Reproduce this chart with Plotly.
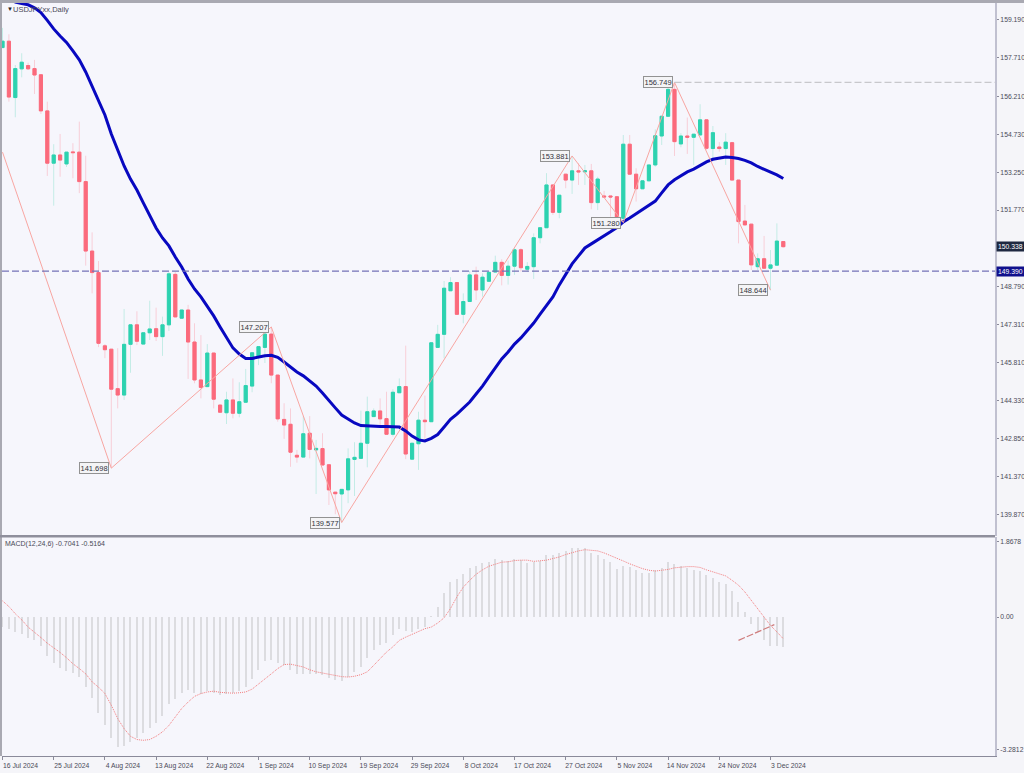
import plotly.graph_objects as go
from plotly.subplots import make_subplots

open_prices = [
    158.11, 158.36, 156.16, 157.28, 157.41, 157.29, 157.05, 155.64, 153.60, 153.92,
    153.57, 154.04, 154.03, 152.88, 150.17, 149.33, 146.47, 146.34, 144.80, 144.55,
    146.53, 147.29, 146.54, 146.98, 147.14, 146.83, 147.29, 149.26, 147.55, 147.87,
    146.62, 145.14, 144.88, 146.19, 144.16, 143.86, 144.36, 143.84, 144.27, 144.90,
    146.02, 146.41, 146.93, 145.33, 143.60, 143.41, 142.20, 142.13, 143.06, 142.41,
    142.46, 141.83, 140.76, 140.69, 140.85, 142.04, 142.08, 142.67, 143.71, 143.93,
    143.63, 143.02, 144.64, 144.88, 142.05, 142.65, 143.57, 143.51, 146.41, 146.92,
    148.62, 148.94, 147.70, 148.20, 149.24, 148.65, 148.99, 149.35, 149.73, 149.22,
    149.58, 150.22, 149.46, 149.56, 150.69, 151.08, 152.75, 151.68, 153.17, 152.94,
    153.30, 153.26, 153.30, 152.06, 152.32, 152.32, 152.29, 151.45, 154.34, 153.17,
    152.60, 152.91, 153.53, 154.66, 155.43, 156.48, 154.35, 154.66, 154.61, 154.70,
    155.29, 154.17, 154.23, 154.17, 154.40, 152.94, 151.34, 151.22, 149.56, 149.87,
    149.50, 149.62, 150.54,
]
close_prices = [
    158.36, 156.18, 157.29, 157.54, 157.28, 157.04, 155.64, 153.60, 153.92, 153.72,
    154.03, 154.01, 152.88, 150.17, 149.33, 146.57, 146.32, 144.78, 144.55, 146.53,
    147.29, 146.65, 146.98, 147.13, 146.83, 147.29, 149.28, 147.60, 147.87, 146.62,
    145.14, 144.85, 146.19, 144.39, 143.88, 144.36, 143.84, 144.29, 144.92, 146.20,
    146.44, 146.93, 145.33, 143.62, 143.38, 142.32, 142.13, 143.04, 142.43, 142.47,
    141.82, 140.85, 140.70, 140.87, 142.06, 142.12, 142.67, 143.90, 143.93, 143.62,
    143.02, 144.66, 144.88, 142.25, 142.67, 143.57, 143.51, 146.59, 146.92, 148.72,
    148.94, 147.70, 148.20, 149.24, 148.65, 149.15, 149.34, 149.73, 149.22, 149.58,
    150.22, 149.52, 149.57, 150.69, 151.08, 152.75, 151.68, 152.35, 152.94, 153.30,
    153.26, 153.30, 152.06, 152.98, 152.28, 152.28, 151.45, 154.34, 153.17, 152.60,
    152.91, 153.53, 154.67, 155.43, 156.48, 154.44, 154.66, 154.61, 154.73, 155.29,
    154.18, 154.79, 154.17, 154.42, 152.94, 151.32, 151.19, 149.63, 149.87, 149.50,
    149.63, 150.56, 150.34,
]
high_prices = [
    158.88, 158.63, 157.43, 157.89, 157.52, 157.63, 157.05, 156.00, 154.34, 154.74,
    154.03, 154.38, 155.22, 153.89, 150.90, 149.78, 146.54, 146.35, 146.38, 147.91,
    147.29, 147.82, 147.01, 148.23, 147.96, 147.61, 149.35, 149.35, 147.87, 148.07,
    147.35, 146.89, 146.54, 146.19, 144.16, 144.68, 145.20, 145.05, 145.57, 146.23,
    146.44, 147.09, 147.21, 145.33, 144.23, 144.03, 142.41, 143.73, 143.73, 142.80,
    143.06, 141.83, 140.77, 140.88, 142.47, 142.71, 143.94, 144.49, 144.03, 144.42,
    144.68, 144.78, 145.20, 146.48, 142.67, 143.90, 144.53, 146.59, 147.29, 149.00,
    149.15, 148.94, 148.52, 149.39, 149.56, 149.30, 149.34, 149.99, 149.85, 149.80,
    150.28, 150.28, 149.74, 150.86, 151.08, 153.21, 152.75, 152.35, 153.18, 153.88,
    153.60, 153.53, 153.57, 153.07, 152.52, 152.32, 152.29, 154.70, 154.70, 153.40,
    152.91, 153.53, 154.92, 155.44, 156.74, 156.75, 154.77, 155.38, 154.74, 155.90,
    155.29, 155.05, 154.42, 154.77, 154.43, 152.94, 151.97, 151.22, 150.08, 150.76,
    150.21, 151.25, 150.54,
]
low_prices = [
    158.11, 156.00, 155.39, 156.95, 157.24, 156.30, 155.52, 153.10, 151.94, 153.07,
    153.45, 153.01, 152.43, 149.60, 148.52, 146.42, 145.99, 141.70, 144.03, 144.36,
    145.42, 146.50, 146.54, 146.70, 146.66, 146.08, 147.05, 147.60, 147.55, 145.18,
    145.01, 144.42, 144.86, 144.03, 143.88, 143.42, 143.64, 143.68, 144.27, 144.66,
    145.72, 145.80, 145.01, 143.51, 142.84, 141.75, 141.91, 142.13, 142.08, 140.69,
    141.82, 140.26, 139.90, 139.58, 140.33, 140.61, 142.08, 141.73, 143.71, 143.32,
    143.02, 142.93, 144.64, 142.05, 142.05, 141.63, 142.80, 143.51, 146.41, 145.99,
    148.62, 147.68, 147.35, 148.20, 148.26, 148.39, 148.99, 149.35, 148.83, 148.86,
    149.24, 149.37, 149.35, 149.08, 150.47, 151.08, 151.58, 151.45, 152.62, 152.40,
    152.75, 152.75, 151.80, 151.77, 152.28, 151.51, 151.38, 151.28, 153.17, 152.10,
    152.60, 152.91, 153.46, 154.31, 155.43, 153.88, 154.22, 153.96, 153.53, 154.70,
    154.12, 153.80, 154.05, 153.53, 152.94, 150.47, 151.19, 149.43, 149.43, 149.50,
    148.64, 149.62, 150.30,
]
ma_values = [
    160.20, 160.05, 159.89, 159.83, 159.78, 159.66, 159.48, 159.17, 158.84, 158.56,
    158.31, 157.98, 157.63, 157.16, 156.61, 156.07, 155.48, 154.74, 154.08, 153.49,
    152.98, 152.55, 152.05, 151.54, 151.07, 150.68, 150.37, 149.94, 149.55, 149.08,
    148.69, 148.38, 148.03, 147.64, 147.21, 146.78, 146.39, 146.15, 145.98, 145.98,
    146.04, 146.08, 146.10, 146.02, 145.84, 145.65, 145.45, 145.30, 145.10, 144.90,
    144.63, 144.32, 144.05, 143.77, 143.62, 143.46, 143.36, 143.34, 143.34, 143.32,
    143.32, 143.32, 143.30, 143.15, 142.95, 142.80, 142.76, 142.86, 143.01, 143.30,
    143.60, 143.81, 144.05, 144.28, 144.59, 144.90, 145.26, 145.61, 145.96, 146.23,
    146.54, 146.78, 147.05, 147.36, 147.71, 148.07, 148.38, 148.85, 149.28, 149.67,
    149.98, 150.29, 150.45, 150.60, 150.76, 150.92, 151.09, 151.31, 151.46, 151.62,
    151.77, 151.93, 152.12, 152.44, 152.75, 152.95, 153.10, 153.26, 153.37, 153.51,
    153.65, 153.75, 153.80, 153.84, 153.82, 153.78, 153.71, 153.61, 153.47, 153.37,
    153.26, 153.14, 153.00,
]
macd_hist = [
    -0.25, -0.29, -0.37, -0.43, -0.51, -0.56, -0.72, -0.98, -1.14, -1.27,
    -1.35, -1.39, -1.49, -1.74, -2.00, -2.38, -2.67, -2.99, -3.23, -3.19,
    -3.10, -3.00, -2.89, -2.75, -2.63, -2.46, -2.17, -2.03, -1.88, -1.82,
    -1.88, -1.90, -1.84, -1.88, -1.93, -1.90, -1.89, -1.84, -1.74, -1.53,
    -1.32, -1.10, -1.06, -1.14, -1.20, -1.32, -1.41, -1.41, -1.42, -1.41,
    -1.45, -1.51, -1.57, -1.59, -1.49, -1.36, -1.24, -1.02, -0.83, -0.70,
    -0.65, -0.45, -0.29, -0.35, -0.38, -0.31, -0.26, 0.02, 0.26, 0.60,
    0.87, 0.95, 1.06, 1.22, 1.26, 1.34, 1.36, 1.43, 1.41, 1.38,
    1.43, 1.41, 1.34, 1.36, 1.39, 1.55, 1.55, 1.60, 1.65, 1.70,
    1.72, 1.72, 1.60, 1.55, 1.45, 1.36, 1.20, 1.27, 1.24, 1.16,
    1.08, 1.08, 1.16, 1.22, 1.36, 1.31, 1.26, 1.22, 1.16, 1.14,
    1.03, 0.98, 0.88, 0.81, 0.64, 0.36, 0.13, -0.18, -0.37, -0.58,
    -0.71, -0.73, -0.75,
]
macd_signal = [
    0.40, 0.26, 0.08, -0.07, -0.25, -0.37, -0.51, -0.65, -0.76, -0.88,
    -1.01, -1.16, -1.28, -1.41, -1.61, -1.74, -1.90, -2.19, -2.52, -2.77,
    -2.96, -3.04, -3.06, -3.04, -2.96, -2.85, -2.69, -2.48, -2.27, -2.11,
    -1.97, -1.90, -1.86, -1.84, -1.87, -1.88, -1.89, -1.88, -1.86, -1.79,
    -1.67, -1.53, -1.41, -1.28, -1.18, -1.17, -1.20, -1.24, -1.31, -1.36,
    -1.39, -1.42, -1.46, -1.48, -1.49, -1.47, -1.43, -1.36, -1.20, -1.03,
    -0.87, -0.74, -0.58, -0.50, -0.43, -0.36, -0.29, -0.25, -0.15, -0.02,
    0.21, 0.50, 0.74, 0.91, 1.06, 1.17, 1.26, 1.31, 1.36, 1.37,
    1.40, 1.41, 1.41, 1.38, 1.39, 1.41, 1.45, 1.49, 1.55, 1.60,
    1.64, 1.67, 1.65, 1.64, 1.59, 1.53, 1.45, 1.39, 1.32, 1.26,
    1.20, 1.16, 1.14, 1.16, 1.18, 1.22, 1.24, 1.25, 1.25, 1.23,
    1.17, 1.12, 1.08, 1.02, 0.91, 0.79, 0.62, 0.41, 0.21, -0.02,
    -0.21, -0.37, -0.54,
]

zigzag_bars = [0, 17, 42, 53, 89, 97, 105, 120]
zigzag_prices = [154.03, 141.698, 147.207, 139.577, 153.881, 151.280, 156.749, 148.644]
zigzag_labels = [None, "141.698", "147.207", "139.577", "153.881", "151.280", "156.749", "148.644"]

trend_bars = [115, 120.6]
trend_values = [-0.58, -0.19]

date_bars = [0, 8, 16, 24, 32, 40, 48, 56, 64, 72, 80, 88, 96, 104, 112, 120]
date_labels = [
    "16 Jul 2024", "25 Jul 2024", "4 Aug 2024", "13 Aug 2024", "22 Aug 2024", "1 Sep 2024",
    "10 Sep 2024", "19 Sep 2024", "29 Sep 2024", "8 Oct 2024", "17 Oct 2024", "27 Oct 2024",
    "5 Nov 2024", "14 Nov 2024", "24 Nov 2024", "3 Dec 2024",
]
price_ticks = [159.19, 157.71, 156.21, 154.73, 153.25, 151.77, 148.79, 147.31, 145.81, 144.33, 142.85, 141.37, 139.87]
macd_ticks = [1.8678, 0, -3.2812]
macd_tick_labels = ["1.8678", "0.00", "-3.2812"]

last_price = 150.338
level_price = 149.390
high_level = 156.749

FONT = "Liberation Sans"
TEXT_COLOR = "#4a4a58"
UP = "#2dd2b0"
DOWN = "#fb6a7c"
UP_WICK = "#c4ece6"
DOWN_WICK = "#f8cfd8"

W, H = 1024, 773


def main():
    bars = list(range(len(open_prices)))
    body_high = [max(o, c) for o, c in zip(open_prices, close_prices)]
    body_low = [min(o, c) for o, c in zip(open_prices, close_prices)]

    fig = make_subplots(rows=2, cols=1, shared_xaxes=True)

    # pale wicks first, then solid bodies on top of them
    fig.add_trace(go.Candlestick(
        x=bars, open=open_prices, high=high_prices, low=low_prices, close=close_prices,
        increasing=dict(line=dict(color=UP_WICK, width=1), fillcolor=UP),
        decreasing=dict(line=dict(color=DOWN_WICK, width=1), fillcolor=DOWN),
        whiskerwidth=0, hoverinfo="skip"), row=1, col=1)
    fig.add_trace(go.Candlestick(
        x=bars, open=open_prices, high=body_high, low=body_low, close=close_prices,
        increasing=dict(line=dict(color=UP, width=1), fillcolor=UP),
        decreasing=dict(line=dict(color=DOWN, width=1), fillcolor=DOWN),
        whiskerwidth=0, hoverinfo="skip"), row=1, col=1)

    fig.add_trace(go.Scatter(x=bars, y=ma_values, mode="lines",
                             line=dict(color="#0808c0", width=3)), row=1, col=1)
    fig.add_trace(go.Scatter(x=zigzag_bars, y=zigzag_prices, mode="lines",
                             line=dict(color="#f8a6a2", width=1)), row=1, col=1)

    fig.add_trace(go.Bar(x=bars, y=macd_hist, width=0.18,
                         marker=dict(color="#dcdce0", line_width=0)), row=2, col=1)
    fig.add_trace(go.Scatter(x=bars, y=macd_signal, mode="lines",
                             line=dict(color="#f47c7c", width=1, dash="1px,1px")), row=2, col=1)
    fig.add_trace(go.Scatter(x=trend_bars, y=trend_values, mode="lines",
                             line=dict(color="#cf7c7c", width=1.2, dash="7px,2px")), row=2, col=1)

    fig.add_shape(type="line", xref="x domain", yref="y", x0=0, x1=1, y0=level_price, y1=level_price,
                  line=dict(color="#7472b6", width=1.3, dash="7px,3px"))
    fig.add_shape(type="line", xref="x", yref="y", x0=105, x1=155.08, y0=high_level, y1=high_level,
                  line=dict(color="#c8c8cc", width=1.2, dash="7px,3px"))

    # window frame: top edge, left edge, band between the two panes
    frame = dict(type="rect", xref="paper", yref="paper", line_width=0, fillcolor="#a9a9b2", layer="above")
    fig.add_shape(x0=0, x1=1, y0=1 - 3 / H, y1=1, **frame)
    fig.add_shape(x0=0, x1=2 / W, y0=17 / H, y1=1, **frame)
    fig.add_shape(x0=0, x1=995 / W, y0=1 - 537.5 / H, y1=1 - 535 / H, **dict(frame, fillcolor="#8f8f9c"))

    for bar, price, label in zip(zigzag_bars, zigzag_prices, zigzag_labels):
        if label is None:
            continue
        fig.add_annotation(x=bar, y=price, xref="x", yref="y", text=label, showarrow=False,
                           xanchor="right", xshift=-2, font=dict(family=FONT, size=7.5, color="#333340"),
                           bgcolor="#f4f4f6", bordercolor="#929292", borderwidth=1, borderpad=0.5)

    for price, color in [(last_price, "#1e2840"), (level_price, "#10108c")]:
        fig.add_annotation(x=996 / W, y=price, xref="paper", yref="y", text=f"{price:.3f}", showarrow=False,
                           xanchor="left", font=dict(family=FONT, size=6.8, color="white"),
                           bgcolor=color, borderpad=1)

    fig.add_annotation(x=5 / W, y=1 - 9 / H, xref="paper", yref="paper", text="▼", showarrow=False,
                       xanchor="left", yanchor="middle", font=dict(family=FONT, size=6, color="#222222"))
    fig.add_annotation(x=11 / W, y=1 - 9 / H, xref="paper", yref="paper", text="USDJPYxx,Daily", showarrow=False,
                       xanchor="left", yanchor="middle", font=dict(family=FONT, size=7.5, color=TEXT_COLOR))
    fig.add_annotation(x=3 / W, y=1 - 544 / H, xref="paper", yref="paper", text="MACD(12,24,6) -0.7041 -0.5164",
                       showarrow=False, xanchor="left", yanchor="middle",
                       font=dict(family=FONT, size=7, color=TEXT_COLOR))

    fig.update_xaxes(range=[-0.08, 155.08], domain=[2 / W, 995 / W], showgrid=False, zeroline=False,
                     rangeslider_visible=False)
    fig.update_xaxes(showticklabels=False, ticks="", row=1, col=1)
    fig.update_xaxes(tickmode="array", tickvals=date_bars, ticktext=date_labels, ticks="outside", ticklen=3,
                     tickcolor="#8a8a9a", ticklabelshift=18, ticklabeloverflow="allow",
                     tickfont=dict(family=FONT, size=6.8, color=TEXT_COLOR),
                     showline=True, linecolor="#8a8a9a", linewidth=1, row=2, col=1)

    y_style = dict(side="right", showgrid=False, zeroline=False, showline=True, linecolor="#c0c0d0", linewidth=2,
                   ticks="outside", ticklen=2, tickcolor="#8a8a9a", tickmode="array",
                   tickfont=dict(family=FONT, size=6.8, color=TEXT_COLOR))
    fig.update_yaxes(range=[139.05, 159.85], domain=[1 - 536 / H, 1 - 3 / H], tickvals=price_ticks,
                     ticktext=[f"{p:.3f}" for p in price_ticks], row=1, col=1, **y_style)
    fig.update_yaxes(range=[-3.449, 1.985], domain=[1 - 756 / H, 1 - 537 / H], tickvals=macd_ticks,
                     ticktext=macd_tick_labels, row=2, col=1, **y_style)

    fig.update_layout(width=W, height=H, autosize=False,
                      margin=dict(l=0, r=0, t=0, b=0, autoexpand=False), showlegend=False,
                      paper_bgcolor="#f5f5f9", plot_bgcolor="#f6f6fc", bargap=0)

    fig.write_html("out.html", config=dict(displayModeBar=False),
                   post_script="document.body.style.margin='0';")


if __name__ == '__main__':
    main()
